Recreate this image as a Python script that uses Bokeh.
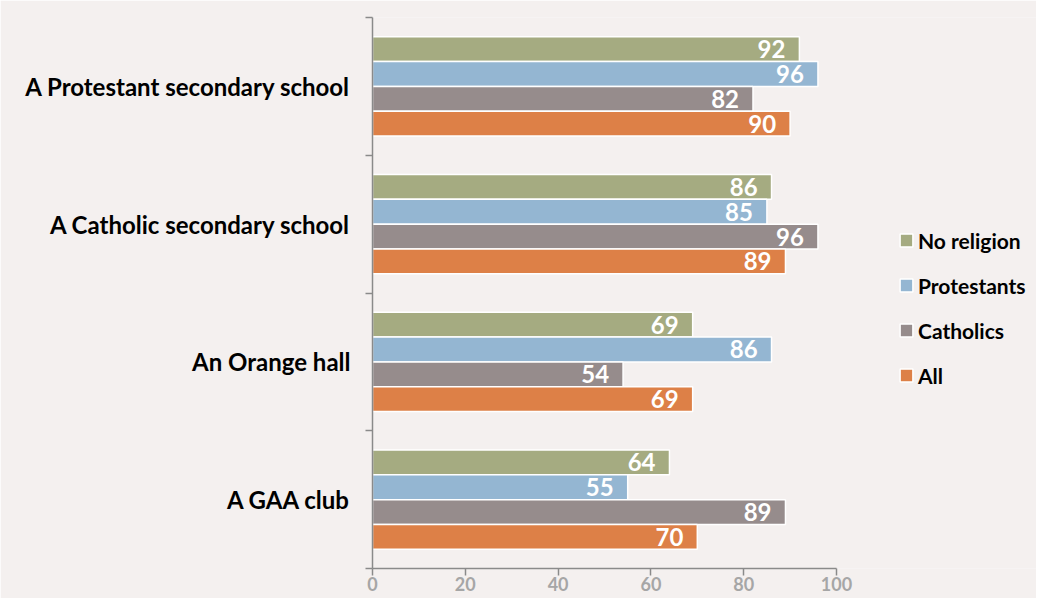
from bokeh.plotting import figure
from bokeh.models import ColumnDataSource, Range1d, FixedTicker, Legend, LegendItem
from bokeh.transform import dodge
from bokeh.core.properties import value
from bokeh.embed import file_html
from bokeh.resources import INLINE

# ---------------- data ----------------
categories = ["A Protestant secondary school", "A Catholic secondary school",
              "An Orange hall", "A GAA club"]
series = ["No religion", "Protestants", "Catholics", "All"]
no_religion = [92, 86, 69, 64]
protestants = [96, 85, 86, 55]
catholics = [82, 96, 54, 89]
all_people = [90, 89, 69, 70]
x_ticks = [0, 20, 40, 60, 80, 100]

# ---------------- style ----------------
colors = ["#A5AB81", "#94B6D2", "#968C8C", "#DD8047"]
BG = "#F4F0EF"
AXIS = "#8A8A8A"
FONT = "Lato"
BAR_H = 0.18

n = len(categories)
ypos = [n - 1 - i for i in range(n)]
keys = ["nr", "pr", "ca", "al"]
values = [no_religion, protestants, catholics, all_people]
data = dict(y=ypos, cat=categories)
for k, v in zip(keys, values):
    data[k] = v
    data[k + "_t"] = [str(x) for x in v]
source = ColumnDataSource(data)

offsets = [1.5 * BAR_H, 0.5 * BAR_H, -0.5 * BAR_H, -1.5 * BAR_H]

p = figure(width=1036, height=598,
           x_range=Range1d(0, 143.1), y_range=Range1d(-0.5, n - 0.5),
           output_backend="svg", toolbar_location=None,
           min_border_left=372, min_border_right=0,
           min_border_top=17, min_border_bottom=30,
           background_fill_color=BG, border_fill_color=BG,
           outline_line_color=None)
p.grid.visible = False

bar_renderers = []
for k, off, col in zip(keys, offsets, colors):
    r = p.hbar(y=dodge("y", off), left=0, right=k, height=BAR_H, source=source,
               fill_color=col, line_color="white", line_width=1.5)
    bar_renderers.append(r)
    p.text(x=k, y=dodge("y", off), text=k + "_t", source=source,
           x_offset=-14, text_align="right", text_baseline="middle",
           text_color="white", text_font=value(FONT), text_font_style="bold",
           text_font_size="24px")

# x axis
xa = p.xaxis[0]
xa.ticker = FixedTicker(ticks=x_ticks)
xa.bounds = (0, 100)
xa.major_tick_out = 7
xa.major_tick_in = 0
xa.minor_tick_line_color = None
xa.axis_line_color = AXIS
xa.axis_line_width = 1.5
xa.major_tick_line_color = AXIS
xa.major_tick_line_width = 1.5
xa.major_label_text_color = "#A6A6A6"
xa.major_label_text_font = FONT
xa.major_label_text_font_style = "bold"
xa.major_label_text_font_size = "18px"
xa.major_label_standoff = 1

# y axis
ya = p.yaxis[0]
ya.ticker = FixedTicker(ticks=ypos, minor_ticks=[i - 0.5 for i in range(n + 1)])
ya.major_label_overrides = {y: c for y, c in zip(ypos, categories)}
ya.major_tick_line_color = None
ya.minor_tick_out = 7
ya.minor_tick_in = 0
ya.minor_tick_line_color = AXIS
ya.minor_tick_line_width = 1.5
ya.axis_line_color = AXIS
ya.axis_line_width = 1.5
ya.major_label_text_color = "black"
ya.major_label_text_font = FONT
ya.major_label_text_font_style = "bold"
ya.major_label_text_font_size = "24px"
ya.major_label_standoff = 15

legend = Legend(items=[LegendItem(label=s, renderers=[r]) for s, r in zip(series, bar_renderers)],
                location=(526, 179), background_fill_alpha=0, border_line_color=None,
                padding=0, margin=0, spacing=17, label_height=28,
                glyph_height=16, glyph_width=16, label_standoff=4,
                label_text_font=FONT, label_text_font_style="bold",
                label_text_font_size="21px", label_text_color="black")
p.add_layout(legend)

open("out.html", "w").write(file_html(p, INLINE))
